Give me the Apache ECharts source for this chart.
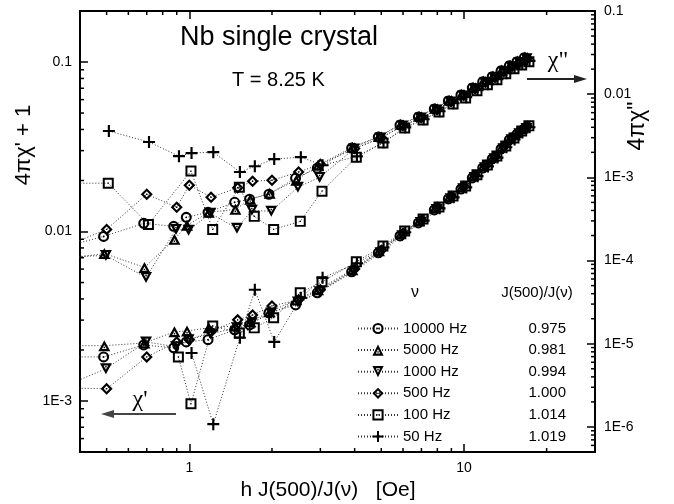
<!DOCTYPE html>
<html><head><meta charset="utf-8">
<script src="https://cdn.jsdelivr.net/npm/echarts@6/dist/echarts.min.js"></script>
<style>html,body{margin:0;padding:0;background:#fff}#c{width:674px;height:504px}</style>
</head><body><div id="c"></div>
<script>
// ---------- data ----------
const fields = [0.3, 0.5, 0.7, 0.9, 1.0, 1.2, 1.5, 1.7, 2.0, 2.5, 3, 4, 5, 6, 7, 8, 9, 10, 11, 12, 13, 14, 15, 16, 17];
const freqNames = ['10000 Hz', '5000 Hz', '1000 Hz', '500 Hz', '100 Hz', '50 Hz'];
const jRatio = [0.975, 0.981, 0.994, 1.000, 1.014, 1.019];
const jRatioText = ['0.975', '0.981', '0.994', '1.000', '1.014', '1.019'];

// 4*pi*chi'' (right axis)
const chi2_10000 = [1.25e-4, 1.95e-4, 2.80e-4, 2.58e-4, 3.31e-4, 3.80e-4, 5.02e-4, 5.46e-4, 6.27e-4, 9.78e-4, 1.29e-3, 2.25e-3, 3.05e-3, 4.26e-3, 5.32e-3, 6.65e-3, 8.30e-3, 9.81e-3, 1.19e-2, 1.41e-2, 1.62e-2, 1.91e-2, 2.19e-2, 2.46e-2, 2.74e-2];
const chi2_5000 = [9.5e-5, 1.22e-4, 8.26e-5, 1.80e-4, 2.65e-4, 3.80e-4, 4.13e-4, 5.46e-4, 6.45e-4, 9.25e-4, 1.40e-3, 2.30e-3, 3.11e-3, 4.35e-3, 5.43e-3, 6.78e-3, 8.47e-3, 1.00e-2, 1.21e-2, 1.44e-2, 1.65e-2, 1.95e-2, 2.23e-2, 2.51e-2, 2.79e-2];
const chi2_1000 = [1.09e-4, 1.15e-4, 6.26e-5, 2.37e-4, 2.31e-4, 3.70e-4, 2.44e-4, 4.02e-4, 3.91e-4, 7.62e-4, 1.00e-3, 2.19e-3, 2.97e-3, 4.15e-3, 5.18e-3, 6.46e-3, 8.08e-3, 9.54e-3, 1.16e-2, 1.37e-2, 1.58e-2, 1.85e-2, 2.13e-2, 2.40e-2, 2.66e-2];
const chi2_500 = [1.19e-4, 2.37e-4, 6.27e-4, 4.37e-4, 8.05e-4, 5.77e-4, 7.5e-4, 9.00e-4, 9.25e-4, 1.16e-3, 1.44e-3, 2.22e-3, 3.01e-3, 4.20e-3, 5.25e-3, 6.55e-3, 8.20e-3, 9.70e-3, 1.17e-2, 1.39e-2, 1.60e-2, 1.89e-2, 2.16e-2, 2.43e-2, 2.70e-2];
const chi2_100 = [8.51e-4, 8.51e-4, 2.72e-4, null, 1.19e-3, 2.37e-4, 7.62e-4, 3.40e-4, 2.37e-4, 2.96e-4, 6.82e-4, 1.75e-3, 2.59e-3, 3.92e-3, 4.90e-3, 6.12e-3, 7.64e-3, 9.02e-3, 1.10e-2, 1.30e-2, 1.49e-2, 1.76e-2, 2.02e-2, 2.25e-2, 2.46e-2];
const chi2_50 = [null, 3.61e-3, 2.66e-3, 1.80e-3, 1.96e-3, 2.01e-3, 1.16e-3, 1.36e-3, 1.66e-3, 1.75e-3, 1.40e-3, 1.79e-3, 2.64e-3, 4.00e-3, 5.00e-3, 6.24e-3, 7.79e-3, 9.20e-3, 1.12e-2, 1.32e-2, 1.52e-2, 1.79e-2, 2.06e-2, 2.30e-2, 2.51e-2];

// 4*pi*chi' + 1 (left axis)
const chi1_10000 = [1.82e-3, 1.82e-3, 2.14e-3, 2.06e-3, 2.23e-3, 2.30e-3, 2.63e-3, 2.81e-3, 3.31e-3, 3.69e-3, 4.35e-3, 5.78e-3, 7.48e-3, 9.42e-3, 1.124e-2, 1.341e-2, 1.556e-2, 1.78e-2, 2.07e-2, 2.37e-2, 2.68e-2, 3.07e-2, 3.47e-2, 3.76e-2, 4.03e-2];
const chi1_5000 = [2.12e-3, 2.12e-3, 2.20e-3, 2.56e-3, 2.59e-3, 2.70e-3, 2.77e-3, 2.93e-3, 3.36e-3, 3.95e-3, 4.53e-3, 5.95e-3, 7.70e-3, 9.70e-3, 1.158e-2, 1.381e-2, 1.60e-2, 1.83e-2, 2.13e-2, 2.44e-2, 2.76e-2, 3.16e-2, 3.57e-2, 3.87e-2, 4.15e-2];
const chi1_1000 = [1.09e-3, 1.55e-3, 2.23e-3, 2.09e-3, 2.30e-3, 2.49e-3, 2.70e-3, 2.89e-3, 3.31e-3, 3.84e-3, 4.41e-3, 5.80e-3, 7.50e-3, 9.45e-3, 1.13e-2, 1.35e-2, 1.56e-2, 1.79e-2, 2.08e-2, 2.38e-2, 2.69e-2, 3.08e-2, 3.48e-2, 3.78e-2, 4.05e-2];
const chi1_500 = [1.20e-3, 1.18e-3, 1.82e-3, 2.23e-3, 2.30e-3, 2.56e-3, 3.01e-3, 3.22e-3, 3.64e-3, 3.95e-3, 4.53e-3, 6.0e-3, 7.75e-3, 9.75e-3, 1.165e-2, 1.39e-2, 1.61e-2, 1.84e-2, 2.14e-2, 2.45e-2, 2.77e-2, 3.17e-2, 3.58e-2, 3.89e-2, 4.16e-2];
const chi1_100 = [null, null, null, 1.82e-3, 9.62e-4, 2.77e-3, 2.52e-3, 2.70e-3, 3.10e-3, 4.35e-3, 5.05e-3, 6.62e-3, 8.22e-3, 1.008e-2, 1.186e-2, 1.397e-2, 1.622e-2, 1.857e-2, 2.16e-2, 2.47e-2, 2.79e-2, 3.20e-2, 3.56e-2, 3.92e-2, 4.20e-2];
const chi1_50 = [null, null, null, null, 1.92e-3, 7.3e-4, 2.36e-3, 4.53e-3, 2.23e-3, 4.06e-3, 5.33e-3, 6.5e-3, 8.05e-3, 9.9e-3, 1.16e-2, 1.37e-2, 1.59e-2, 1.82e-2, 2.12e-2, 2.42e-2, 2.73e-2, 3.14e-2, 3.49e-2, 3.84e-2, 4.12e-2];

const chi2Sets = [chi2_10000, chi2_5000, chi2_1000, chi2_500, chi2_100, chi2_50];
const chi1Sets = [chi1_10000, chi1_5000, chi1_1000, chi1_500, chi1_100, chi1_50];

// axes
const xRange = [0.4, 30];
const yLeftRange = [0.0005, 0.2];
const yRightRange = [5e-7, 0.1];
const xTickVals = [1, 10], xTickLabels = ['1', '10'];
const yLTickVals = [0.001, 0.01, 0.1], yLTickLabels = ['1E-3', '0.01', '0.1'];
const yRTickVals = [1e-6, 1e-5, 1e-4, 1e-3, 0.01, 0.1], yRTickLabels = ['1E-6', '1E-5', '1E-4', '1E-3', '0.01', '0.1'];
const xMinor = [0.5, 0.6, 0.7, 0.8, 0.9, 2, 3, 4, 5, 6, 7, 8, 9, 20];
const yLMinor = [6e-4, 7e-4, 8e-4, 9e-4, 2e-3, 3e-3, 4e-3, 5e-3, 6e-3, 7e-3, 8e-3, 9e-3, 2e-2, 3e-2, 4e-2, 5e-2, 6e-2, 7e-2, 8e-2, 9e-2];
const yRMinor = [];
[1e-7, 1e-6, 1e-5, 1e-4, 1e-3, 1e-2].forEach(d => { [2,3,4,5,6,7,8,9].forEach(m => { const v = m * d; if (v > 5.5e-7 && v < 0.1) yRMinor.push(v); }); });

// ---------- rendering ----------
const FONT = 'Liberation Sans, Arial, sans-serif';
const symbols = [
  'path://M5,0A5,5 0 1,1 5,10A5,5 0 1,1 5,0Z M5,1.9A3.1,3.1 0 1,0 5,8.1A3.1,3.1 0 1,0 5,1.9Z M4.15,5A0.85,0.85 0 1,1 5.85,5A0.85,0.85 0 1,1 4.15,5Z',
  'path://M5,0L10,9L0,9Z M5,3.71L3.06,7.2L6.94,7.2Z M4.4,5.45H5.6V6.65H4.4Z',
  'path://M0,0L10,0L5,9Z M3.06,1.8L5,5.29L6.94,1.8Z M4.4,2.35H5.6V3.55H4.4Z',
  'path://M5,0L10,5L5,10L0,5Z M5,2.55L2.55,5L5,7.45L7.45,5Z M4.4,4.4H5.6V5.6H4.4Z',
  'path://M0,0H10V10H0Z M1.8,1.8V8.2H8.2V1.8Z M4.4,4.4H5.6V5.6H4.4Z',
  'path://M4.1,0H5.9V4.1H10V5.9H5.9V10H4.1V5.9H0V4.1H4.1Z'
];
const symbolSizes = [11, [12, 11], [12, 11], 12, 11, 12];

function fmt(vals, labels) {
  return v => {
    for (let i = 0; i < vals.length; i++) {
      if (Math.abs(Math.log10(v) - Math.log10(vals[i])) < 1e-6) return labels[i];
    }
    return '';
  };
}

function pairs(vals, k) {
  const out = [];
  fields.forEach((h, i) => { if (vals[i] != null) out.push([h * jRatio[k], vals[i]]); });
  return out;
}

const series = [];
freqNames.forEach((name, k) => {
  const common = {
    name: name, type: 'line', xAxisIndex: 0,
    symbol: symbols[k], symbolSize: symbolSizes[k], showAllSymbol: true,
    itemStyle: { color: '#000', borderWidth: 0 },
    lineStyle: { color: '#333', width: 1, type: [1, 2] },
    connectNulls: true, animation: false, clip: true, z: 3
  };
  series.push(Object.assign({}, common, { yAxisIndex: 1, data: pairs(chi2Sets[k], k) }));
  series.push(Object.assign({}, common, { yAxisIndex: 0, data: pairs(chi1Sets[k], k) }));
});

function tickSeries(data, yIdx, dx, dy) {
  return {
    type: 'custom', xAxisIndex: 0, yAxisIndex: yIdx, silent: true, clip: false, z: 10,
    animation: false, data: data,
    renderItem: (params, api) => {
      const p = api.coord([api.value(0), api.value(1)]);
      return { type: 'line', shape: { x1: p[0], y1: p[1], x2: p[0] + dx, y2: p[1] + dy },
        style: { stroke: '#000', lineWidth: 1.5 } };
    }
  };
}
series.push(tickSeries(yLMinor.map(v => [xRange[0], v]), 0, 4, 0));
series.push(tickSeries(yRMinor.map(v => [xRange[1], v]), 1, -4, 0));
series.push(tickSeries(xMinor.map(v => [v, yLeftRange[0]]), 0, 0, -4));
series.push(tickSeries(xMinor.map(v => [v, yLeftRange[1]]), 0, 0, 4));

const axisLine = { show: true, onZero: false, lineStyle: { color: '#000', width: 2 } };
const tick = { show: true, inside: true, length: 8, lineStyle: { color: '#000', width: 1.5 } };

const option = {
  animation: false,
  backgroundColor: '#fff',
  grid: { left: 80, right: 79, top: 11, bottom: 52, containLabel: false },
  xAxis: [
    { type: 'log', logBase: 10, min: xRange[0], max: xRange[1], position: 'bottom',
      axisLine: axisLine, axisTick: tick, splitLine: { show: false },
      axisLabel: { formatter: fmt(xTickVals, xTickLabels), fontSize: 14, fontFamily: FONT, color: '#000', margin: 9 } },
    { type: 'log', logBase: 10, min: xRange[0], max: xRange[1], position: 'top',
      axisLine: axisLine, axisTick: tick, splitLine: { show: false }, axisLabel: { show: false } }
  ],
  yAxis: [
    { type: 'log', logBase: 10, min: yLeftRange[0], max: yLeftRange[1], position: 'left',
      axisLine: axisLine, axisTick: tick, splitLine: { show: false },
      axisLabel: { formatter: fmt(yLTickVals, yLTickLabels), fontSize: 14, fontFamily: FONT, color: '#000', margin: 8 } },
    { type: 'log', logBase: 10, min: yRightRange[0], max: yRightRange[1], position: 'right',
      axisLine: axisLine, axisTick: tick, splitLine: { show: false },
      axisLabel: { formatter: fmt(yRTickVals, yRTickLabels), fontSize: 14, fontFamily: FONT, color: '#000', margin: 9 } }
  ],
  legend: {
    data: freqNames, orient: 'vertical', left: 352, top: 316,
    itemWidth: 40, itemHeight: 14, itemGap: 6.6, itemStyle: { borderWidth: 0 },
    selectedMode: false,
    formatter: name => '{n|' + name + '}{v|' + jRatioText[freqNames.indexOf(name)] + '}',
    textStyle: { fontFamily: FONT, fontSize: 15, color: '#000', lineHeight: 14,
      rich: { n: { width: 126, fontSize: 15, fontFamily: FONT, lineHeight: 14 },
              v: { width: 37, align: 'right', fontSize: 15, fontFamily: FONT, lineHeight: 14 } } }
  },
  graphic: [
    { type: 'text', x: 180, y: 38, style: { text: 'Nb single crystal', font: '27px ' + FONT, fill: '#000', textVerticalAlign: 'middle' } },
    { type: 'text', x: 232, y: 80, style: { text: 'T = 8.25 K', font: '20px ' + FONT, fill: '#000', textVerticalAlign: 'middle' } },
    { type: 'text', x: 24, y: 145, rotation: Math.PI / 2, style: { text: "4πχ' + 1", font: '22px ' + FONT, fill: '#000', textAlign: 'center', textVerticalAlign: 'middle' } },
    { type: 'text', x: 638, y: 126, rotation: Math.PI / 2, style: { text: '4πχ"', font: '23px ' + FONT, fill: '#000', textAlign: 'center', textVerticalAlign: 'middle' } },
    { type: 'text', x: 328, y: 490, style: { text: 'h J(500)/J(ν)   [Oe]', font: '21px ' + FONT, fill: '#000', textAlign: 'center', textVerticalAlign: 'middle' } },
    { type: 'text', x: 558, y: 61, style: { text: 'χ"', font: '24px Liberation Serif, serif', fill: '#000', textAlign: 'center', textVerticalAlign: 'middle' } },
    { type: 'line', shape: { x1: 527, y1: 79, x2: 578, y2: 79 }, style: { stroke: '#222', lineWidth: 1.8 } },
    { type: 'polygon', shape: { points: [[587, 79], [574, 75], [574, 83]] }, style: { fill: '#222' } },
    { type: 'text', x: 140, y: 400, style: { text: "χ'", font: '24px Liberation Serif, serif', fill: '#000', textAlign: 'center', textVerticalAlign: 'middle' } },
    { type: 'line', shape: { x1: 176, y1: 414, x2: 110, y2: 414 }, style: { stroke: '#444', lineWidth: 1.8 } },
    { type: 'polygon', shape: { points: [[101, 414], [114, 410], [114, 418]] }, style: { fill: '#444' } },
    { type: 'text', x: 415, y: 293, style: { text: 'ν', font: '16px ' + FONT, fill: '#000', textAlign: 'center', textVerticalAlign: 'middle' } },
    { type: 'text', x: 537, y: 293, style: { text: 'J(500)/J(ν)', font: '15px ' + FONT, fill: '#000', textAlign: 'center', textVerticalAlign: 'middle' } }
  ],
  series: series
};

const chart = echarts.init(document.getElementById('c'), null, { renderer: 'canvas' });
chart.setOption(option);
</script>
</body></html>
